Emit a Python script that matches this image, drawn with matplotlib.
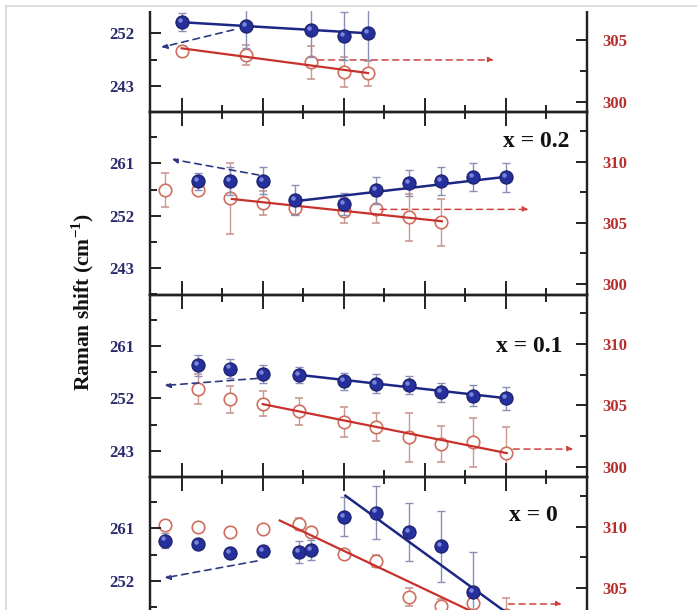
import matplotlib
matplotlib.use('Agg')
import matplotlib.pyplot as plt
from matplotlib.ticker import MultipleLocator, NullFormatter
from matplotlib.patches import Rectangle
from matplotlib.lines import Line2D
from matplotlib import transforms

plt.rcParams['font.family'] = ['Liberation Serif', 'DejaVu Serif']
plt.rcParams['font.weight'] = 'bold'
plt.rcParams['mathtext.fontset'] = 'custom'
plt.rcParams['mathtext.rm'] = 'Liberation Serif:bold'
plt.rcParams['mathtext.bf'] = 'Liberation Serif:bold'

# values, panels from top (cut off) to bottom
panel_labels = ['', 'x = 0.2', 'x = 0.1', 'x = 0']

# top panel
T_b1 = [100, 180, 260, 300, 330]
w_b1 = [253.9, 253.3, 252.5, 251.6, 252.0]
e_b1 = [1.5, 3.8, 4.5, 4.1, 4.6]
T_r1 = [100, 180, 260, 300, 330]
w_r1 = [304.15, 303.8, 303.2, 302.4, 302.3]
e_r1 = [0.35, 0.85, 1.35, 1.2, 1.0]

# x = 0.2
T_b2 = [120, 160, 200, 240, 300, 340, 380, 420, 460, 500]
w_b2 = [257.9, 258.0, 258.0, 254.7, 254.0, 256.4, 257.6, 258.0, 258.7, 258.6]
e_b2 = [1.4, 2.4, 2.3, 2.6, 1.9, 2.3, 2.2, 2.4, 2.4, 2.5]
T_r2 = [80, 120, 160, 200, 240, 300, 340, 380, 420]
w_r2 = [307.7, 307.7, 307.0, 306.6, 306.2, 306.0, 306.1, 305.45, 305.05]
e_r2 = [1.4, 0.4, 2.9, 1.0, 0.55, 1.0, 1.1, 1.9, 1.9]

# x = 0.1
T_b3 = [120, 160, 200, 245, 300, 340, 380, 420, 460, 500]
w_b3 = [257.7, 257.1, 256.2, 256.0, 254.9, 254.5, 254.3, 253.0, 252.4, 252.0]
e_b3 = [1.8, 1.65, 1.5, 1.4, 1.5, 1.65, 1.6, 1.7, 1.8, 2.0]
T_r3 = [120, 160, 200, 245, 300, 340, 380, 420, 460, 500]
w_r3 = [306.35, 305.5, 305.15, 304.5, 303.65, 303.2, 302.4, 301.85, 302.0, 301.15]
e_r3 = [1.25, 1.1, 1.0, 1.1, 1.25, 1.15, 2.0, 1.5, 2.0, 2.1]

# x = 0
T_b4 = [80, 120, 160, 200, 245, 260, 300, 340, 380, 420, 460]
w_b4 = [258.9, 258.3, 256.8, 257.1, 257.0, 257.3, 263.0, 263.7, 260.4, 257.9, 250.1]
e_b4 = [1.3, 0.8, 0.8, 0.8, 1.9, 1.7, 3.4, 4.6, 5.0, 6.1, 6.8]
T_r4 = [80, 120, 160, 200, 245, 260, 300, 340, 380, 420, 460, 500]
w_r4 = [310.1, 309.95, 309.55, 309.8, 310.2, 309.55, 307.75, 307.2, 304.25, 303.55, 303.8, 302.8]
e_r4 = [0.3, 0.3, 0.3, 0.3, 0.5, 0.3, 0.3, 0.5, 0.7, 0.5, 0.5, 1.4]

# linear fits (end points)
fit_b = [([100, 330], [253.9, 252.0]), ([243, 501], [254.55, 258.7]),
         ([246, 501], [256.0, 252.0]), ([302, 515], [266.6, 245.1])]
fit_r = [([100, 330], [304.35, 302.33]), ([162, 421], [306.95, 305.13]),
         ([200, 501], [305.1, 301.1]), ([221, 500], [310.5, 301.75])]

# dashed arrows: (start, end)
arr_b = [((164, 252.6), (75, 249.6)), ((195, 259.0), (88, 261.7)),
         ((193, 255.4), (79, 254.2)), ((193, 255.4), (79, 252.5))]
arr_r = [((268, 303.4), (485, 303.4)), ((345, 306.1), (528, 306.1)),
         ((509, 301.43), (583, 301.43)), ((503, 303.68), (569, 303.68))]

blue = [(T_b1, w_b1, e_b1), (T_b2, w_b2, e_b2), (T_b3, w_b3, e_b3), (T_b4, w_b4, e_b4)]
red = [(T_r1, w_r1, e_r1), (T_r2, w_r2, e_r2), (T_r3, w_r3, e_r3), (T_r4, w_r4, e_r4)]

left_ticks = [243, 252, 261]
right_ticks = [300, 305, 310]

c_left = '#2b2c6e'
c_right = '#b5302e'

fig = plt.figure(figsize=(6.97, 6.10), dpi=100)
W, H = 697, 610
tops = [-70.5, 112, 294.5, 477]
ph = 182.5
lab_pos = [(0.95, 0.8), (0.959, 0.836), (0.945, 0.715), (0.934, 0.79)]


def tick_labels(a, ticks):
    # blank the labels that fall outside the (cropped) figure
    out = []
    for v in ticks:
        y = a.transData.transform((0, v))[1]
        out.append(str(v) if 6 < y < H - 4 else '')
    return out


for i in range(4):
    ax = fig.add_axes([150 / W, 1 - (tops[i] + ph) / H, 437 / W, ph / H])
    ax2 = ax.twinx()
    ax.set_zorder(ax2.get_zorder() + 1)
    ax.patch.set_visible(False)

    ax.set_xlim(61, 600)
    ax.set_ylim(238.5, 269.8)
    ax2.set_ylim(299.15, 314.05)

    Tb, wb, eb = blue[i]
    Tr, wr, er = red[i]

    ax2.errorbar(Tr, wr, yerr=er, fmt='o', ms=9, mfc='white', mec='#cf6f5f', mew=1.2,
                 ecolor='#c99a90', elinewidth=1, capsize=3, capthick=1, zorder=2)
    ax2.plot(fit_r[i][0], fit_r[i][1], color='#c8312b', lw=1.6, zorder=3)
    (s, e) = arr_r[i]
    ax2.annotate('', xy=e, xytext=s,
                 arrowprops=dict(arrowstyle='-|>', color='#d0433f', lw=1.1,
                                 linestyle=(0, (4, 3)), mutation_scale=8,
                                 shrinkA=0, shrinkB=0))

    ax.errorbar(Tb, wb, yerr=eb, fmt='none', ecolor='#8a90b5', elinewidth=1,
                capsize=3, capthick=1, zorder=2)
    ax.plot(fit_b[i][0], fit_b[i][1], color='#1d2785', lw=1.8, zorder=3)
    ax.plot(Tb, wb, 'o', ms=9.5, mfc='#25309c', mec='#1a1f66', mew=0.8, zorder=4)
    hl = transforms.offset_copy(ax.transData, fig=fig, x=-1.5, y=1.5, units='points')
    ax.plot(Tb, wb, 'o', ms=3.2, mfc='#8f9be6', mec='none', alpha=0.8,
            transform=hl, zorder=5)
    (s, e) = arr_b[i]
    ax.annotate('', xy=e, xytext=s,
                arrowprops=dict(arrowstyle='-|>', color='#2d3a82', lw=1.2,
                                linestyle=(0, (4, 3)), mutation_scale=8,
                                shrinkA=0, shrinkB=0))

    if panel_labels[i]:
        ax.text(lab_pos[i][0], lab_pos[i][1], panel_labels[i], transform=ax.transAxes,
                ha='right', va='center', fontsize=17, fontweight='bold', color='#111111')

    # ticks
    ax.xaxis.set_major_locator(MultipleLocator(100))
    ax.xaxis.set_minor_locator(MultipleLocator(50))
    ax.xaxis.set_major_formatter(NullFormatter())
    ax.tick_params(axis='x', which='both', direction='in', top=True, bottom=True,
                   width=1.4, color='#222222')
    ax.tick_params(axis='x', which='major', length=10)
    ax.tick_params(axis='x', which='minor', length=5)

    ax.set_yticks(left_ticks, labels=tick_labels(ax, left_ticks))
    ax.yaxis.set_minor_locator(MultipleLocator(4.5))
    ax.tick_params(axis='y', which='both', direction='in', width=1.4, color='#222222',
                   labelsize=12, labelcolor=c_left, pad=11)
    ax.tick_params(axis='y', which='major', length=8)
    ax.tick_params(axis='y', which='minor', length=5)

    ax2.set_yticks(right_ticks, labels=tick_labels(ax2, right_ticks))
    ax2.yaxis.set_minor_locator(MultipleLocator(2.5))
    ax2.tick_params(axis='y', which='both', direction='in', width=1.4, color='#222222',
                    labelsize=12, labelcolor=c_right, pad=11)
    ax2.tick_params(axis='y', which='major', length=8)
    ax2.tick_params(axis='y', which='minor', length=5)

    for a in (ax, ax2):
        for sp in a.spines.values():
            sp.set_linewidth(1.6)
            sp.set_color('#222222')

fig.text(83 / W, 1 - 302 / H, 'Raman shift (cm$^{\\mathbf{-1}}$)', rotation=90,
         ha='center', va='center', fontsize=15.5, fontweight='bold', color='#111111')

# screenshot frame at top / left
fig.add_artist(Rectangle((0, 1 - 11 / H), 1, 11 / H, transform=fig.transFigure,
                         facecolor='white', edgecolor='none', zorder=10))
fig.add_artist(Rectangle((0, 0), 6 / W, 1, transform=fig.transFigure,
                         facecolor='white', edgecolor='none', zorder=10))
fig.add_artist(Line2D([6 / W, 1], [1 - 5.5 / H, 1 - 5.5 / H], transform=fig.transFigure,
                      color='#d6d6d6', lw=1.2, zorder=11))
fig.add_artist(Line2D([6 / W, 6 / W], [0, 1 - 5.5 / H], transform=fig.transFigure,
                      color='#d6d6d6', lw=1.2, zorder=11))

fig.savefig('out.png', dpi=100)
